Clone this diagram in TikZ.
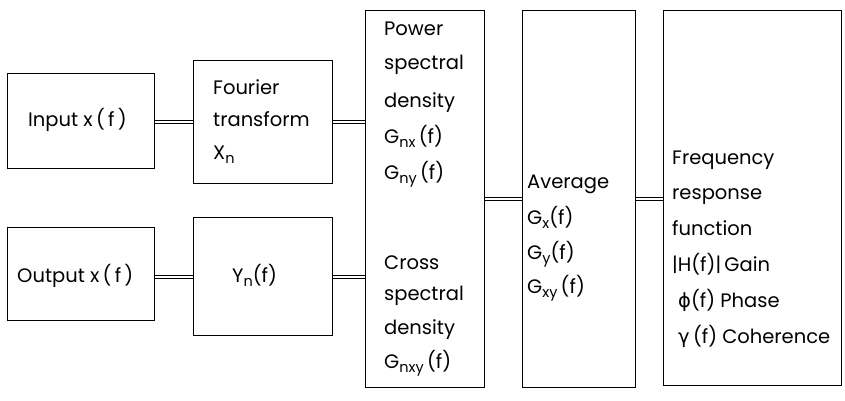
\documentclass[tikz,border=0pt]{standalone}
\usepackage{fontspec}
\setmainfont{Poppins}
\newfontfamily\greekf{DejaVu Sans}
\newcommand{\lsub}[1]{\raisebox{-0.45ex}{\fontsize{14.5}{15}\selectfont #1}}
\begin{document}
\begin{tikzpicture}[x=1pt,y=-1pt,
  box/.style={draw, line width=1.2pt, rectangle, inner sep=0pt, anchor=north west},
  link/.style={double, double distance=2.6pt, line width=0.75pt},
  txt/.style={anchor=base west, inner sep=0pt, font=\fontsize{19.5}{22}\selectfont}]
\useasboundingbox (0,0) rectangle (845,401);
% boxes
\node[box, minimum width=147pt, minimum height=95pt]  (inp)  at (7,73) {};
\node[box, minimum width=139pt, minimum height=123pt] (four) at (193,60) {};
\node[box, minimum width=147pt, minimum height=93pt]  (outp) at (7,227) {};
\node[box, minimum width=139pt, minimum height=118pt] (yn)   at (193,217) {};
\node[box, minimum width=119pt, minimum height=377pt] (psd)  at (365,10) {};
\node[box, minimum width=113pt, minimum height=377pt] (avg)  at (522,10) {};
\node[box, minimum width=178pt, minimum height=375pt] (frf)  at (663,10) {};
% texts
\node[txt] (t1) at (28,127) {Input x\,(\,f\,)};
\node[txt] (t2) at (213,95) {Fourier};
\node[txt] (t3) at (213,126) {transform};
\node[txt] (t4) at (213,159) {X\lsub{n}};
\node[txt] (t5) at (17,282) {Output x\,(\,f\,)};
\node[txt] (t6) at (232,282) {Y\lsub{n}(f)};
\node[txt] (p1) at (384,36) {Power};
\node[txt] (p2) at (384,70) {spectral};
\node[txt] (p3) at (384,107) {density};
\node[txt] (p4) at (384,143) {G\lsub{nx}\,(f)};
\node[txt] (p5) at (384,179) {G\lsub{ny}\,(f)};
\node[txt] (p6) at (384,269) {Cross};
\node[txt] (p7) at (384,300) {spectral};
\node[txt] (p8) at (384,334) {density};
\node[txt] (p9) at (384,368) {G\lsub{nxy}\,(f)};
\node[txt] (a1) at (527,188) {Average};
\node[txt] (a2) at (527,224) {G\lsub{x}(f)};
\node[txt] (a3) at (527,259) {G\lsub{y}(f)};
\node[txt] (a4) at (527,293) {G\lsub{xy}\,(f)};
\node[txt] (f1) at (672,164) {Frequency};
\node[txt] (f2) at (672,199) {response};
\node[txt] (f3) at (672,235) {function};
\node[txt] (f4) at (672,271) {|H(f)|\,Gain};
\node[txt] (f5) at (678,307) {{\greekf ϕ}(f) Phase};
\node[txt] (f6) at (678,343) {{\greekf γ}\,(f) Coherence};
% connectors
\coordinate (c1) at (inp.east |- four.west);
\coordinate (c2) at (four.east -| psd.west);
\coordinate (c3) at (outp.east |- yn.west);
\coordinate (c4) at (yn.east -| psd.west);
\coordinate (c5) at (psd.east |- avg.west);
\coordinate (c6) at (avg.east -| frf.west);
\draw[link] (c1) -- (four.west);
\draw[link] (four.east) -- (c2);
\foreach \s in {-1.7pt,1.7pt}{
  \draw[line width=0.75pt] ([yshift=\s]c3) -- ([yshift=\s]yn.west);
  \draw[line width=0.75pt] ([yshift=\s]yn.east) -- ([yshift=\s]c4);
}
\draw[link] (c5) -- (avg.west);
\draw[link] (avg.east) -- (c6);
\end{tikzpicture}
\end{document}
